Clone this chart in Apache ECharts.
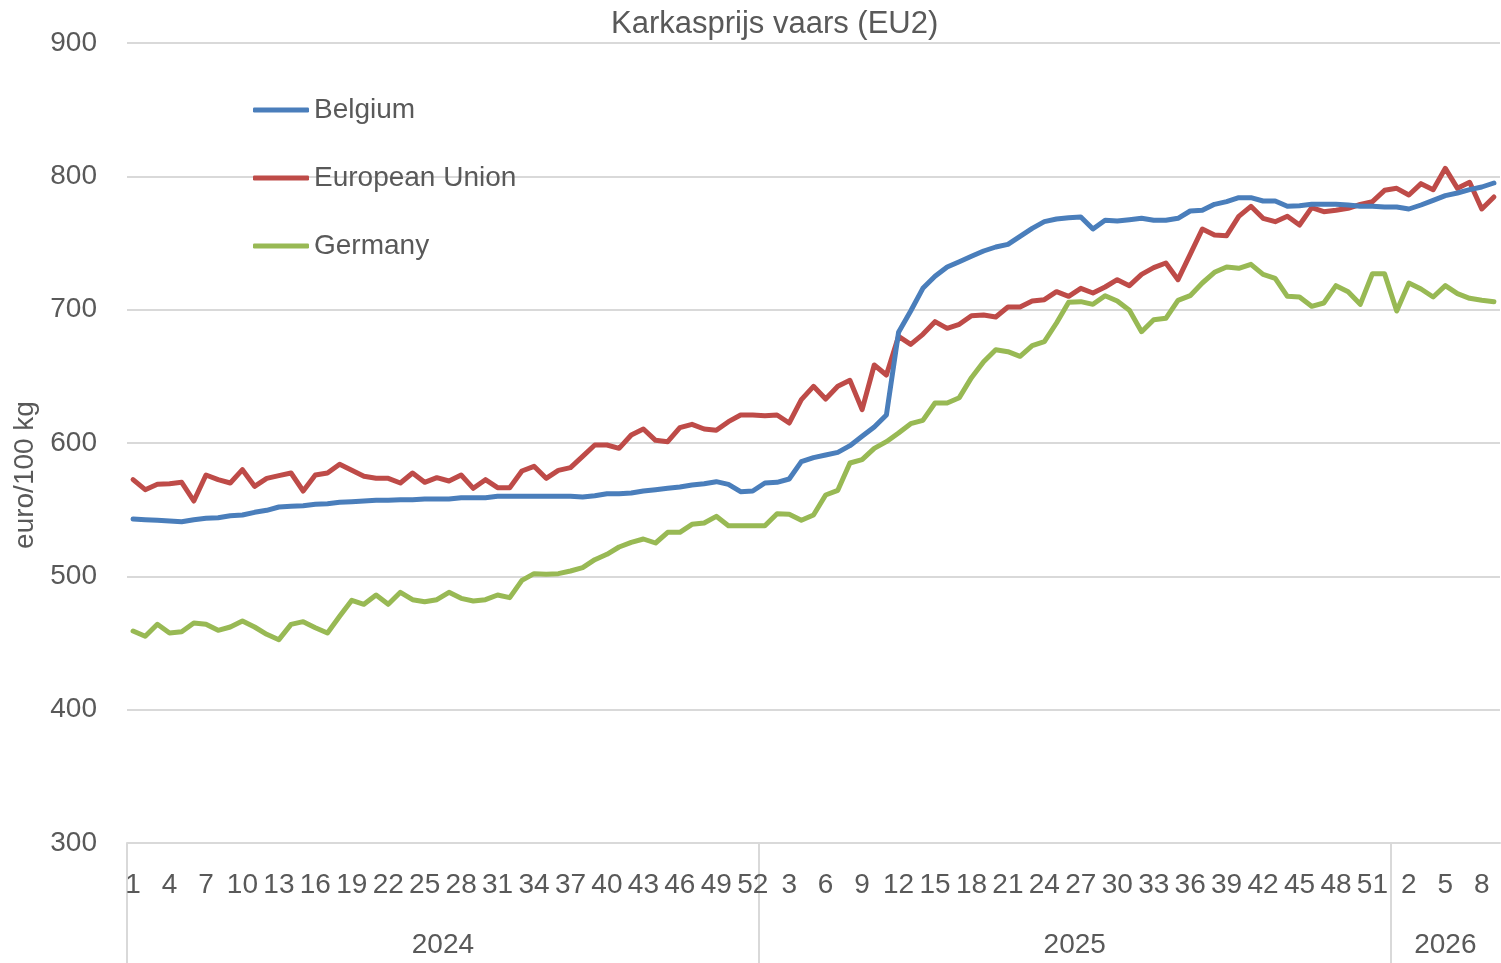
<!DOCTYPE html>
<html><head><meta charset="utf-8">
<script src="https://cdn.jsdelivr.net/npm/echarts@6/dist/echarts.min.js"></script>
<style>html,body{margin:0;padding:0;background:#fff}#chart{width:1501px;height:963px}</style>
</head><body><div id="chart"></div>
<script>
const years = ['2024', '2025', '2026'];
const weeksPerYear = [52, 52, 9];
const yTicks = [300, 400, 500, 600, 700, 800, 900];

const belgium = [543,542.5,542,541.5,541,542.5,543.5,544,545.5,546,548,549.5,552,552.5,553,554,554.5,555.5,556,556.5,557,557,557.5,557.5,558,558,558,559,559,559,560,560,560,560,560,560,560,559.5,560.5,562,562,562.5,564,565,566,567,568.5,569.5,571,569,563.5,564,
570,570.5,573,586,589,591,593,598,605,612,621,683,699,716,725,732,736,740,744,747,749,755,761,766,768,769,769.5,760.5,767,766.5,767.5,768.5,767,767,768.5,774,774.5,779,781,784,784,781.5,781.5,777.5,778,779,779,779,778.5,777.5,777.5,777,
777,775.5,778.5,782,785.5,787.5,790,792,795];

const europeanUnion = [572.5,565,569,569.5,570.5,556.5,576,572.5,570,580,567.5,573.5,575.5,577.5,564,576,577.5,584,579.5,575,573.5,573.5,570,577.5,570.5,574,571.5,576,566,572.5,566.5,566.5,579,582.5,573.5,579.5,581.5,590,598.5,598.5,596,606,610.5,602,601,611.5,614,610.5,609.5,616,621,621,
620.5,621,615,632.5,642.5,633,642.5,647,625,658.5,651,680,674,681.5,691,686,689,695.5,696,694.5,702,702,706.5,707.5,713.5,710,716,712.5,717,722.5,718,726.5,731.5,735,722.5,741.5,760.5,756,755.5,770,777.5,768.5,766,770,763.5,776.5,773.5,774.5,776,779,781,789.5,
791,786,794.5,790,806,791,795.5,775.5,784.5];

const germany = [459,455,464,457.5,458.5,465,464,459.5,462,466.5,462,456.5,452.5,464,466,461.5,457.5,470,482,479,486,479,488,482.5,481,482.5,488,483.5,481.5,482.5,486,484,497,502,501.5,502,504,506.5,512.5,516.5,522,525.5,528,525,533,533,539,540,545,538,538,538,
538,547,546.5,542,546,561,564.5,585,587.5,596,601,607.5,614.5,617,630,630,634,649,661,670,668.5,665,673,676,690,705.5,706,704,710.5,706.5,699.5,683.5,692.5,693.5,707,710.5,720,728,732,731,734,726.5,723.5,710,709.5,702.5,705,718,713.5,704,727,727,
699,720,715.5,709.5,718,712,708.5,707,706];

// Build categories from the year/week structure
const weekLabels = [];
const yearBounds = [];
const yearCenters = [];
let idx = 0;
weeksPerYear.forEach((n, k) => {
  yearBounds.push(idx - 0.5);
  yearCenters.push(idx + (n - 1) / 2);
  for (let w = 1; w <= n; w++) weekLabels.push(String(w));
  idx += n;
});
const total = weekLabels.length;

const FONT = 'Liberation Sans, Arial, sans-serif';
const TXT = '#595959';
const GRID = '#d9d9d9';

const chart = echarts.init(document.getElementById('chart'), null, {renderer: 'canvas'});
chart.setOption({
  animation: false,
  backgroundColor: '#fff',
  textStyle: {fontFamily: FONT},
  title: {
    text: 'Karkasprijs vaars (EU2)',
    left: 606, top: 4,
    textStyle: {fontFamily: FONT, fontSize: 31, fontWeight: 'normal', color: TXT}
  },
  legend: {
    orient: 'vertical', left: 248, top: 90,
    icon: 'roundRect', itemWidth: 56, itemHeight: 5, itemGap: 38, itemTextGap: 5,
    textStyle: {fontFamily: FONT, fontSize: 28, color: TXT, lineHeight: 30},
    data: ['Belgium', 'European Union', 'Germany']
  },
  grid: {left: 127, right: 1, top: 43, bottom: 120, containLabel: false, outerBoundsMode: 'none'},
  xAxis: [
    {
      type: 'category', data: weekLabels, boundaryGap: true, position: 'bottom',
      axisLine: {show: true, lineStyle: {color: GRID, width: 2}},
      axisTick: {show: false},
      axisLabel: {interval: 2, margin: 28, fontSize: 28, color: TXT, fontFamily: FONT},
      splitLine: {show: false}
    },
    {
      type: 'value', min: -0.5, max: total - 0.5, position: 'bottom',
      axisLine: {show: false},
      axisTick: {show: true, customValues: yearBounds, length: 120, inside: false, lineStyle: {color: GRID, width: 2}},
      axisLabel: {
        show: true, customValues: yearCenters, margin: 88, fontSize: 28, color: TXT, fontFamily: FONT,
        formatter: function (v) {
          const k = yearCenters.findIndex(c => Math.abs(c - v) < 1e-6);
          return k >= 0 ? years[k] : '';
        }
      },
      splitLine: {show: false}
    }
  ],
  yAxis: {
    type: 'value', min: yTicks[0], max: yTicks[yTicks.length - 1], interval: 100,
    name: 'euro/100 kg', nameLocation: 'middle', nameGap: 82,
    nameTextStyle: {fontFamily: FONT, fontSize: 28, color: TXT, padding: [0, 64, 0, 0]},
    axisLine: {show: false}, axisTick: {show: false},
    axisLabel: {margin: 30, fontSize: 28, color: TXT, fontFamily: FONT},
    splitLine: {show: true, lineStyle: {color: GRID, width: 2}}
  },
  series: [
    {name: 'Belgium', type: 'line', data: belgium, symbol: 'none', color: '#4a7ebb',
     lineStyle: {width: 5, color: '#4a7ebb', cap: 'round', join: 'round'}, z: 3},
    {name: 'European Union', type: 'line', data: europeanUnion, symbol: 'none', color: '#be4b48',
     lineStyle: {width: 5, color: '#be4b48', cap: 'round', join: 'round'}, z: 2},
    {name: 'Germany', type: 'line', data: germany, symbol: 'none', color: '#98b954',
     lineStyle: {width: 5, color: '#98b954', cap: 'round', join: 'round'}, z: 1}
  ]
});
</script></body></html>
